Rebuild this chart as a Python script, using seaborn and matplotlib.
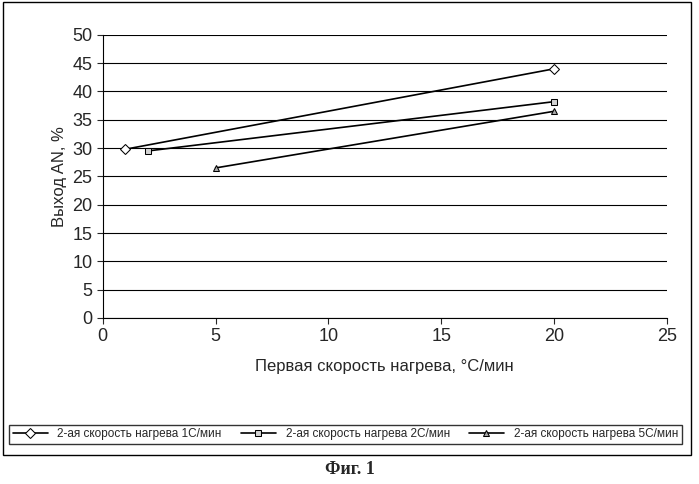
import matplotlib
matplotlib.use('Agg')
import matplotlib.pyplot as plt
import seaborn as sns
import pandas as pd
from matplotlib.patches import Rectangle

labels = ['2-ая скорость нагрева 1С/мин', '2-ая скорость нагрева 2С/мин', '2-ая скорость нагрева 5С/мин']
x1 = [1, 20]
y1 = [29.8, 44.0]
x2 = [2, 20]
y2 = [29.5, 38.2]
x3 = [5, 20]
y3 = [26.5, 36.5]

rows = []
for lab, xs, ys in zip(labels, [x1, x2, x3], [y1, y2, y3]):
    for a, b in zip(xs, ys):
        rows.append({'x': a, 'y': b, 's': lab})
df = pd.DataFrame(rows)

sns.set_style('white')
plt.rcParams['font.family'] = 'Liberation Sans'
fig = plt.figure(figsize=(6.99, 4.84), dpi=100)
ax = fig.add_axes([0.147, 0.343, 0.807, 0.585])

markers = {labels[0]: 'D', labels[1]: 's', labels[2]: '^'}
sns.lineplot(data=df, x='x', y='y', hue='s', style='s', markers=markers, dashes=False,
             palette=['black'] * 3, ax=ax, linewidth=1.2, markersize=5, legend=False)
for line, fc in zip(ax.lines, ['white', 'lightgray', 'darkgray']):
    line.set_markerfacecolor(fc)
    line.set_markeredgecolor('black')

ax.set_xlim(0, 25)
ax.set_ylim(0, 50)
ax.set_xticks(range(0, 26, 5))
ax.set_yticks(range(0, 51, 5))
ax.yaxis.grid(True, color='black', linewidth=0.8)
for s in ['top', 'right']:
    ax.spines[s].set_visible(False)
for s in ['left', 'bottom']:
    ax.spines[s].set_color('black')
ax.tick_params(axis='both', labelsize=13, direction='out', length=4, left=True, bottom=True)
ax.set_xlabel('Первая скорость нагрева, °С/мин', fontsize=12, labelpad=10)
ax.set_ylabel('Выход AN, %', fontsize=12)

handles = ax.lines[:3]
fig.legend(handles, labels, loc='center', bbox_to_anchor=(0.494, 0.103), ncol=3,
           fontsize=8.5, frameon=True, edgecolor='black', fancybox=False,
           handlelength=3, columnspacing=1.6, borderpad=0.3)
fig.patches.append(Rectangle((0.004, 0.06), 0.984, 0.935, transform=fig.transFigure,
                             fill=False, edgecolor='black', linewidth=1))
fig.text(0.5, 0.02, 'Фиг. 1', ha='center', fontsize=13, fontweight='bold', family='Liberation Serif')
fig.savefig('out.png', dpi=100)
